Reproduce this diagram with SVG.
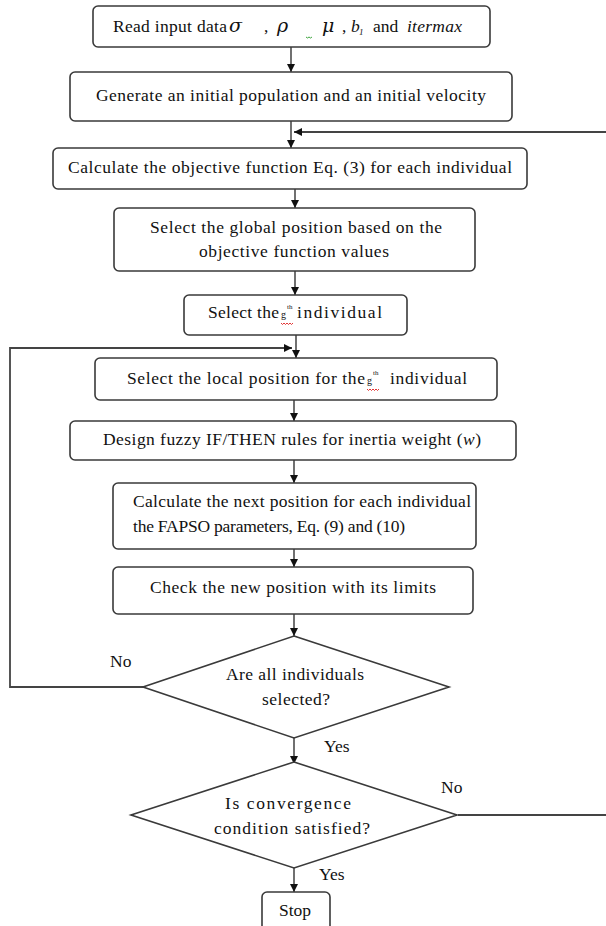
<svg xmlns="http://www.w3.org/2000/svg" width="606" height="926" viewBox="0 0 606 926">
<style>
.box{fill:#fff;stroke:#3a3a3a;stroke-width:1.6}
.t{font-family:"Liberation Serif","Times New Roman",serif;font-size:17.5px;fill:#111}
.c{text-anchor:middle}
.ln{fill:none;stroke:#111;stroke-width:1.2}
.lg{fill:none;stroke:#444;stroke-width:1.8}
.sq{fill:none;stroke:#e02020;stroke-width:0.9}
.gr{font-family:"DejaVu Serif","Liberation Serif",serif;font-style:italic}
</style>
<defs>
<marker id="ah" viewBox="0 0 10 10" refX="10" refY="5" markerWidth="8" markerHeight="8" markerUnits="userSpaceOnUse" orient="auto">
<path d="M0,0 L10,5 L0,10 Z" fill="#111"/>
</marker>
</defs>
<g id="connectors">
<line class="ln" x1="291" y1="47" x2="291" y2="72" marker-end="url(#ah)"/>
<line class="ln" x1="291" y1="121" x2="291" y2="148" marker-end="url(#ah)"/>
<path class="lg" d="M458,815 L612,815 L612,132 L294,132" marker-end="url(#ah)"/>
<line class="ln" x1="295" y1="189" x2="295" y2="208" marker-end="url(#ah)"/>
<line class="ln" x1="295" y1="271" x2="295" y2="295" marker-end="url(#ah)"/>
<line class="ln" x1="296" y1="335" x2="296" y2="358" marker-end="url(#ah)"/>
<path class="lg" d="M143,687 L10,687 L10,348 L292,348" marker-end="url(#ah)"/>
<line class="ln" x1="294" y1="400" x2="294" y2="421" marker-end="url(#ah)"/>
<line class="ln" x1="294" y1="460" x2="294" y2="483" marker-end="url(#ah)"/>
<line class="ln" x1="294" y1="549" x2="294" y2="567" marker-end="url(#ah)"/>
<line class="ln" x1="294" y1="614" x2="294" y2="636" marker-end="url(#ah)"/>
<line class="ln" x1="294" y1="738" x2="294" y2="764" marker-end="url(#ah)"/>
<line class="ln" x1="294" y1="868" x2="294" y2="892" marker-end="url(#ah)"/>
</g>
<g id="n1">
<rect class="box" x="93" y="6" width="397" height="41" rx="5"/>
<text class="t" y="32"><tspan x="113" textLength="114">Read input data</tspan><tspan class="gr" x="229" font-size="19">σ</tspan><tspan x="264">,</tspan><tspan class="gr" x="277" font-size="19">ρ</tspan><tspan class="gr" x="322" font-size="19">μ</tspan><tspan x="342">,</tspan><tspan x="351" font-style="italic">b</tspan><tspan x="359" y="35" font-size="9" font-style="italic">1</tspan><tspan x="373" y="32">and</tspan><tspan x="407" font-style="italic" textLength="55">itermax</tspan></text>
<path d="M306,37 q1.5,2 3,0 q1.5,2 3,0" fill="none" stroke="#2a9a2a" stroke-width="0.9"/>
</g>
<g id="n2">
<rect class="box" x="70" y="72" width="442" height="49" rx="5"/>
<text class="t c" x="291" y="101" textLength="390">Generate an initial population and an initial velocity</text>
</g>
<g id="n3">
<rect class="box" x="53" y="148" width="474" height="41" rx="5"/>
<text class="t c" x="290" y="173" textLength="444">Calculate the objective function Eq. (3) for each individual</text>
</g>
<g id="n4">
<rect class="box" x="114" y="208" width="361" height="63" rx="5"/>
<text class="t c" x="296" y="233" textLength="292">Select the global position based on the</text>
<text class="t c" x="294" y="257" textLength="190">objective function values</text>
</g>
<g id="n5">
<rect class="box" x="184" y="295" width="223" height="40" rx="5"/>
<text class="t" y="318"><tspan x="208" textLength="71">Select the</tspan><tspan x="281" font-size="10">g</tspan><tspan x="287" y="309" font-size="7">th</tspan><tspan x="297" y="318" textLength="85">individual</tspan></text>
<path class="sq" d="M281,323 q1.5,3 3,0 q1.5,3 3,0 q1.5,3 3,0 q1.5,3 3,0"/>
</g>
<g id="n6">
<rect class="box" x="95" y="358" width="402" height="42" rx="5"/>
<text class="t" y="384"><tspan x="127" textLength="238">Select the local position for the</tspan><tspan x="367" font-size="10">g</tspan><tspan x="373" y="375" font-size="7">th</tspan><tspan x="390" y="384" textLength="77">individual</tspan></text>
<path class="sq" d="M367,389 q1.5,3 3,0 q1.5,3 3,0 q1.5,3 3,0 q1.5,3 3,0"/>
</g>
<g id="n7">
<rect class="box" x="70" y="421" width="446" height="39" rx="5"/>
<text class="t" x="103" y="445" textLength="378">Design fuzzy IF/THEN rules for inertia weight (<tspan font-style="italic">w</tspan>)</text>
</g>
<g id="n8">
<rect class="box" x="113" y="483" width="363" height="66" rx="5"/>
<text class="t" x="133" y="507" textLength="338">Calculate the next position for each individual</text>
<text class="t" x="133" y="532" textLength="272">the FAPSO parameters, Eq. (9) and (10)</text>
</g>
<g id="n9">
<rect class="box" x="113" y="567" width="360" height="47" rx="5"/>
<text class="t c" x="293" y="593" textLength="286">Check the new position with its limits</text>
</g>
<g id="d1">
<polygon class="box" points="294,636 449,687 294,738 143,687"/>
<text class="t c" x="295" y="680" textLength="138">Are all individuals</text>
<text class="t c" x="296" y="705" textLength="68">selected?</text>
<text class="t" x="110" y="667">No</text>
<text class="t" x="324" y="752">Yes</text>
</g>
<g id="d2">
<polygon class="box" points="294,762 457,815 294,868 131,815"/>
<text class="t c" x="288" y="809" textLength="126">Is convergence</text>
<text class="t c" x="292" y="834" textLength="156">condition satisfied?</text>
<text class="t" x="441" y="793">No</text>
<text class="t" x="319" y="880">Yes</text>
</g>
<g id="n10">
<rect class="box" x="262" y="892" width="68" height="40" rx="5"/>
<text class="t c" x="295" y="916">Stop</text>
</g>
</svg>
